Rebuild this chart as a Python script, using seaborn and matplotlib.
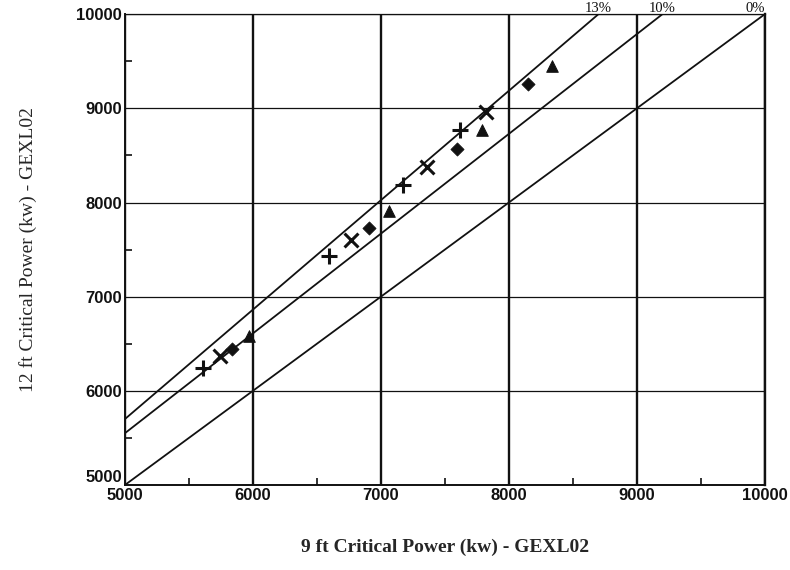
import matplotlib
matplotlib.use("Agg")
import matplotlib.pyplot as plt
import numpy as np
import pandas as pd
import seaborn as sns
from matplotlib.ticker import MultipleLocator

# Data (9 ft vs 12 ft critical power, kW)
plus_x = [5609, 6594, 7172, 7617]
plus_y = [6242, 7431, 8185, 8769]
cross_x = [5742, 6766, 7359, 7820]
cross_y = [6369, 7601, 8376, 8960]
diamond_x = [5836, 6906, 7594, 8148]
diamond_y = [6444, 7728, 8567, 9257]
triangle_x = [5969, 7063, 7789, 8336]
triangle_y = [6582, 7909, 8769, 9448]

# Reference lines (percent difference bands)
ref_labels = ["13%", "10%", "0%"]
ref_x0 = [5000, 5000, 5000]
ref_y0 = [5700, 5550, 5000]
ref_x1 = [8700, 9200, 10000]
ref_y1 = [10000, 10000, 10000]

x_ticks = [5000, 6000, 7000, 8000, 9000, 10000]
y_ticks = [5000, 6000, 7000, 8000, 9000, 10000]

INK = "#111111"

sns.set_theme(style="white", rc={
    "axes.edgecolor": INK,
    "axes.linewidth": 1.4,
    "xtick.color": INK,
    "ytick.color": INK,
    "text.color": INK,
})
plt.rcParams["font.family"] = ["Liberation Sans", "DejaVu Sans"]

fig = plt.figure(figsize=(7.9, 5.7), dpi=100)
ax = fig.add_axes([0.158, 0.149, 0.81, 0.826])

# percent lines
lines = pd.DataFrame({
    "x": ref_x0 + ref_x1,
    "y": ref_y0 + ref_y1,
    "band": ref_labels + ref_labels,
})
sns.lineplot(data=lines, x="x", y="y", units="band", estimator=None,
             color=INK, lw=1.3, ax=ax, legend=False)

aligns = ["center", "center", "right"]
for lab, xe, ye, ha in zip(ref_labels, ref_x1, ref_y1, aligns):
    ax.annotate(lab, (xe, ye), xytext=(0, 4), textcoords="offset points",
                ha=ha, va="center", fontsize=10.5, family="Liberation Serif",
                annotation_clip=False)

# data points
sns.scatterplot(x=plus_x, y=plus_y, marker="+", s=130, color=INK,
                linewidth=2.2, ax=ax, zorder=5)
sns.scatterplot(x=cross_x, y=cross_y, marker="x", s=100, color=INK,
                linewidth=2.2, ax=ax, zorder=5)
sns.scatterplot(x=diamond_x, y=diamond_y, marker="D", s=45, color=INK,
                edgecolor=INK, ax=ax, zorder=5)
sns.scatterplot(x=triangle_x, y=triangle_y, marker="^", s=70, color=INK,
                edgecolor=INK, ax=ax, zorder=5)

ax.set_xlim(5000, 10000)
ax.set_ylim(5000, 10000)
ax.set_xticks(x_ticks)
ax.set_yticks(y_ticks)
ax.set_xticklabels([str(t) for t in x_ticks], fontweight="bold", fontsize=12)
ax.set_yticklabels([str(t) for t in y_ticks], fontweight="bold", fontsize=12)
# the bottom y label sits a little higher, clear of the x label
ax.get_yticklabels()[0].set_va("bottom")
ax.xaxis.set_minor_locator(MultipleLocator(500))
ax.yaxis.set_minor_locator(MultipleLocator(500))
ax.tick_params(which="major", length=0, pad=2)
ax.tick_params(which="minor", direction="in", length=5, width=1.2,
               bottom=True, left=True)

ax.xaxis.grid(True, color=INK, lw=1.7)
ax.yaxis.grid(True, color=INK, lw=0.9)
ax.set_axisbelow(True)
ax.spines["top"].set_linewidth(0.9)
ax.spines["right"].set_linewidth(1.7)

ax.set_xlabel("9 ft Critical Power (kw) - GEXL02", fontsize=14,
              fontweight="bold", family="Liberation Serif", labelpad=26)
ax.set_ylabel("12 ft Critical Power (kw) - GEXL02", fontsize=14,
              family="Liberation Serif", labelpad=28)

fig.savefig("out.png", dpi=100)
